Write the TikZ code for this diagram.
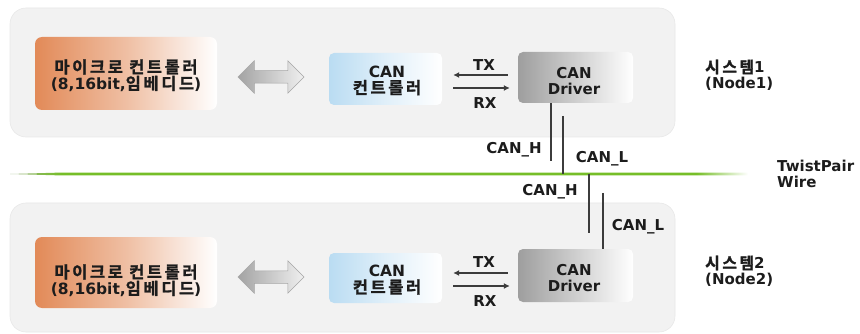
\documentclass[tikz,border=0pt]{standalone}
\usepackage{fontspec}
\setmainfont{DejaVu Sans}
\newfontfamily\kr{Noto Sans CJK KR}[Scale=1.06, LetterSpace=16,
  BoldFont={Noto Sans CJK KR Bold}, BoldFeatures={FakeBold=1.4}]
\usetikzlibrary{shapes.arrows,arrows.meta}

\definecolor{txt}{RGB}{28,28,28}
\definecolor{sysfill}{RGB}{242,242,242}
\definecolor{sysedge}{RGB}{232,232,232}
\definecolor{orng}{RGB}{226,138,88}
\definecolor{ltblue}{RGB}{186,220,242}
\definecolor{drvgray}{RGB}{158,158,158}
\definecolor{wiregreen}{RGB}{118,190,40}
\definecolor{wiredark}{RGB}{90,130,50}
\definecolor{sig}{RGB}{60,60,60}

% green bus: dark thin start, solid green run, fade out to white
\pgfdeclarehorizontalshading{busshade}{100bp}{%
  color(0bp)=(wiredark!60!white); color(25bp)=(wiredark!60!white);
  color(28.5bp)=(wiregreen); color(71.5bp)=(wiregreen);
  color(75bp)=(white); color(100bp)=(white)}

\tikzset{
  sysbox/.style={fill=sysfill, draw=sysedge, line width=0.6pt, rounded corners=16pt},
  microbox/.style={rounded corners=7pt, shade, left color=orng, right color=white,
    middle color=orng!55!white, minimum width=182pt, minimum height=73pt, inner sep=0pt},
  ctlbox/.style={rounded corners=5pt, shade, left color=ltblue, right color=white,
    middle color=ltblue!45!white, minimum width=113pt, minimum height=52pt, inner sep=0pt},
  drvbox/.style={rounded corners=5pt, shade, left color=drvgray, right color=white,
    middle color=drvgray!50!white, minimum width=115pt, minimum height=51pt, inner sep=0pt},
  label/.style={align=center, inner sep=0pt},
  krlabel/.style={align=center, inner sep=0pt, font=\bfseries\fontsize{15.5}{16.5}\selectfont},
  sidetext/.style={align=left, anchor=west, inner sep=0pt},
  dblarrow/.style={double arrow, double arrow head extend=10pt, minimum height=66pt,
    minimum width=32pt, inner sep=6pt, shade, left color=gray!72, right color=gray!12,
    draw=gray!70, line width=0.5pt},
  sigarrow/.style={draw=sig, line width=1.2pt, -{Latex[length=6pt,width=6pt]}},
  canline/.style={draw=sig, line width=1.5pt}
}

\begin{document}
\begin{tikzpicture}[x=1pt, y=-1pt, font=\bfseries\fontsize{15}{16}\selectfont, text=txt]
\useasboundingbox (0,0) rectangle (860,334);

% system frames
\draw[sysbox] (10,8) rectangle (675,137);
\draw[sysbox] (10,203) rectangle (675,332);

% twisted pair bus
\coordinate (busL) at (10,174);
\coordinate (busR) at (748,174);
\shade[shading=busshade] (busL) -- (60,172.6) -- (busR |- 0,172.6) -- (busR |- 0,175.4) -- (60,175.4) -- cycle;

% ---------- system 1 ----------
\node[microbox] (mc1) at (126,73.5) {};
\node[krlabel] (mc1t) at (126,75.5) {{\kr 마이크로 컨트롤러}\\(8,16bit,{\kr 임베디드})};
\node[dblarrow] (ar1) at (271,77) {};
\node[ctlbox] (ctl1) at (385.5,79) {};
\node[krlabel] (ctl1t) at (387,80.5) {CAN\\{\kr 컨트롤러}};
\node[drvbox] (drv1) at (575.5,77.5) {};
\node[label] (drv1t) at (574,81) {CAN\\Driver};

\draw[sigarrow, shorten <=10pt, shorten >=11pt] (drv1.west |- 0,75) -- (ctl1.east |- 0,75);
\draw[sigarrow, shorten <=11pt, shorten >=8pt] (ctl1.east |- 0,88) -- (drv1.west |- 0,88);
\node[label] (tx1) at (484,65) {TX};
\node[label] (rx1) at (485,103) {RX};

\node[sidetext, font=\bfseries\fontsize{15}{15.5}\selectfont] (sys1) at (705,75) {{\kr 시스템}1\\(Node1)};

% bus taps of system 1
\coordinate (h1) at (551,161);
\coordinate (l1) at (563,116);
\draw[canline] (h1 |- drv1.south) -- (h1);
\draw[canline] (l1) -- (l1 |- busL);
\node[label] (h1t) at (514,150) {CAN\_H};
\node[label] (l1t) at (602,159) {CAN\_L};

% ---------- system 2 ----------
\node[microbox, minimum height=71pt] (mc2) at (126,272.5) {};
\node[krlabel] (mc2t) at (126,280.5) {{\kr 마이크로 컨트롤러}\\(8,16bit,{\kr 임베디드})};
\node[dblarrow] (ar2) at (271,277) {};
\node[ctlbox, minimum height=50pt] (ctl2) at (385.5,278) {};
\node[krlabel] (ctl2t) at (387,280) {CAN\\{\kr 컨트롤러}};
\node[drvbox, minimum height=53pt] (drv2) at (575.5,275.5) {};
\node[label] (drv2t) at (574,278.5) {CAN\\Driver};

\draw[sigarrow, shorten <=10pt, shorten >=11pt] (drv2.west |- 0,273) -- (ctl2.east |- 0,273);
\draw[sigarrow, shorten <=11pt, shorten >=8pt] (ctl2.east |- 0,286) -- (drv2.west |- 0,286);
\node[label] (tx2) at (484,262) {TX};
\node[label] (rx2) at (485,301) {RX};

\node[sidetext, font=\bfseries\fontsize{15}{15.5}\selectfont] (sys2) at (705,271) {{\kr 시스템}2\\(Node2)};

% bus taps of system 2
\coordinate (h2) at (589,233);
\coordinate (l2) at (603,193);
\draw[canline] (h2 |- busL) -- (h2);
\draw[canline] (l2) -- (l2 |- drv2.north);
\node[label] (h2t) at (550,192) {CAN\_H};
\node[label] (l2t) at (638,227) {CAN\_L};

% bus label
\node[sidetext] (wire) at (777,174) {TwistPair\\Wire};
\end{tikzpicture}
\end{document}
